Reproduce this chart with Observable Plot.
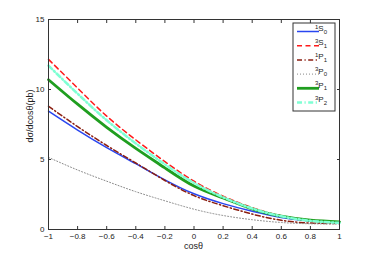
<!DOCTYPE html>
<html>
<head>
<meta charset="utf-8">
<script src="https://cdn.jsdelivr.net/npm/d3@7"></script>
<script src="https://cdn.jsdelivr.net/npm/@observablehq/plot@0.6"></script>
<style>
  html, body { margin: 0; padding: 0; background: #fff; }
  #chart svg { display: block; }
</style>
</head>
<body>
<div id="chart"></div>
<script>
// ---- data ----
const cosTheta = [-1, -0.8, -0.6, -0.4, -0.2, 0, 0.2, 0.4, 0.6, 0.8, 1];
const s1S0 = [8.45, 7.1, 5.85, 4.7, 3.55, 2.55, 1.85, 1.3, 0.86, 0.6, 0.52];
const s3S1 = [12.15, 10.1, 8.1, 6.4, 4.85, 3.45, 2.38, 1.56, 0.98, 0.66, 0.53];
const s1P1 = [8.8, 7.35, 6.0, 4.75, 3.5, 2.42, 1.7, 1.1, 0.66, 0.46, 0.44];
const s3P0 = [5.15, 4.25, 3.45, 2.7, 2.05, 1.45, 1.0, 0.7, 0.5, 0.41, 0.4];
const s3P1 = [10.7, 8.95, 7.3, 5.8, 4.4, 3.1, 2.25, 1.47, 0.95, 0.66, 0.55];
const s3P2 = [11.7, 9.7, 7.8, 6.15, 4.65, 3.32, 2.3, 1.5, 0.95, 0.62, 0.47];
const seriesNames = ["1S0", "3S1", "1P1", "3P0", "3P1", "3P2"];
const seriesValues = [s1S0, s3S1, s1P1, s3P0, s3P1, s3P2];
const legendLabels = [["1","S","0"],["3","S","1"],["1","P","1"],["3","P","0"],["3","P","1"],["3","P","2"]];
const xTicks = [-1, -0.8, -0.6, -0.4, -0.2, 0, 0.2, 0.4, 0.6, 0.8, 1];
const yTicks = [0, 5, 10, 15];
const xLabel = "cosθ";
const yLabel = "dσ/dcosθ(pb)";

// ---- styles ----
const styles = {
  "1S0": {stroke: "#2946f0", strokeWidth: 1.5, dash: null},
  "3S1": {stroke: "#ff1a1a", strokeWidth: 1.5, dash: "5,3.5"},
  "1P1": {stroke: "#8b1e10", strokeWidth: 1.5, dash: "5,2.5,1.2,2.5"},
  "3P0": {stroke: "#888888", strokeWidth: 1, dash: "1,2"},
  "3P1": {stroke: "#1f9e1f", strokeWidth: 2.8, dash: null},
  "3P2": {stroke: "#7fffd4", strokeWidth: 2.5, dash: "5,2.5,1.2,2.5"}
};

const rows = [];
seriesNames.forEach((name, i) => {
  cosTheta.forEach((x, j) => rows.push({series: name, x, y: seriesValues[i][j]}));
});

const W = 374, H = 258;
const mL = 48, mR = 35, mT = 19, mB = 29;
const font = "'Liberation Sans', Arial, Helvetica, sans-serif";
const fmt = d => (d < 0 ? "\u2212" + Math.abs(d) : String(d));

const lineMarks = seriesNames.map(name => Plot.line(rows.filter(d => d.series === name), {
  x: "x", y: "y",
  stroke: styles[name].stroke,
  strokeWidth: styles[name].strokeWidth,
  strokeDasharray: styles[name].dash,
  curve: "natural"
}));

const chart = Plot.plot({
  width: W, height: H,
  marginLeft: mL, marginRight: mR, marginTop: mT, marginBottom: mB,
  style: {fontFamily: font, fontSize: "8px", background: "#fff", color: "#222"},
  x: {domain: [-1, 1]},
  y: {domain: [0, 15]},
  marks: [
    ...lineMarks,
    Plot.axisX({ticks: xTicks, tickSize: -3, tickPadding: 7, tickFormat: fmt, label: null, stroke: "#333"}),
    Plot.axisX({anchor: "top", ticks: xTicks, tickSize: -3, tickFormat: () => "", label: null, stroke: "#333"}),
    Plot.axisY({ticks: yTicks, tickSize: -3, tickPadding: 7, tickFormat: fmt, label: null, stroke: "#333"}),
    Plot.axisY({anchor: "right", ticks: yTicks, tickSize: -3, tickFormat: () => "", label: null, stroke: "#333"}),
    Plot.frame({stroke: "#333", strokeWidth: 1})
  ]
});
document.getElementById("chart").appendChild(chart);

// ---- axis titles & legend ----
const svg = d3.select(chart);
const plotLeft = mL, plotRight = W - mR, plotTop = mT, plotBottom = H - mB;

svg.append("text")
  .attr("x", (plotLeft + plotRight) / 2).attr("y", plotBottom + 20)
  .attr("text-anchor", "middle").attr("font-size", 9).attr("font-family", font)
  .attr("fill", "#222").text(xLabel);

svg.append("text")
  .attr("transform", `translate(${plotLeft - 15},${(plotTop + plotBottom) / 2 - 8}) rotate(-90)`)
  .attr("text-anchor", "middle").attr("font-size", 9).attr("font-family", font)
  .attr("fill", "#222").text(yLabel);

const lg = svg.append("g").attr("transform", `translate(${plotRight - 46},${plotTop + 4})`);
lg.append("rect").attr("x", 0).attr("y", 0).attr("width", 42).attr("height", 88)
  .attr("fill", "#fff").attr("stroke", "#333").attr("stroke-width", 1);
seriesNames.forEach((name, i) => {
  const yy = 8.5 + i * 14.2;
  const st = styles[name];
  lg.append("line").attr("x1", 4).attr("x2", 26).attr("y1", yy).attr("y2", yy)
    .attr("stroke", st.stroke).attr("stroke-width", st.strokeWidth)
    .attr("stroke-dasharray", st.dash);
  const [sup, main, sub] = legendLabels[i];
  const t = lg.append("text").attr("x", 28).attr("y", yy - 0.5).attr("font-family", font)
    .attr("font-size", 8).attr("fill", "#222");
  t.append("tspan").attr("font-size", 6).attr("dy", -2.5).text(sup);
  t.append("tspan").attr("dy", 2.5).text(main);
  t.append("tspan").attr("font-size", 6).attr("dy", 2.5).text(sub);
});
</script>
</body>
</html>
